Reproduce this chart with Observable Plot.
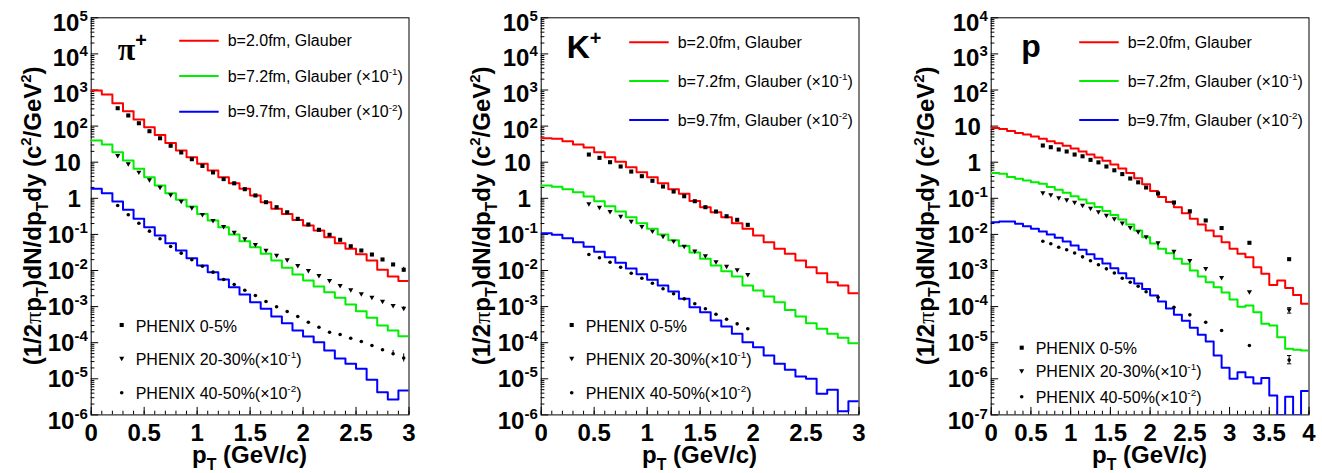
<!DOCTYPE html>
<html><head><meta charset="utf-8">
<script src="https://cdn.jsdelivr.net/npm/d3@7"></script>
<script src="https://cdn.jsdelivr.net/npm/@observablehq/plot@0.6"></script>
<style>
html,body{margin:0;padding:0;background:#fff;}
#wrap{position:relative;width:1322px;height:473px;overflow:hidden;background:#fff;}
#wrap svg{position:absolute;top:0;overflow:visible;}
</style></head><body><div id="wrap"></div>
<script>
// ================= DATA =================
const binWidth = 0.1;

// ---- pi+ : hydro histograms (30 bins of 0.1 GeV/c) ----
const piModelB20 = [968, 750, 430, 259, 152, 93, 57, 34, 21, 13.8, 9.0, 5.9, 3.8, 2.6, 1.83, 1.2, 0.78, 0.51, 0.37, 0.25, 0.176, 0.128, 0.084, 0.057, 0.040, 0.028, 0.019, 0.0105, 0.0068, 0.0051];
const piModelB72 = [40, 31, 18.9, 11.1, 6.6, 3.84, 2.26, 1.38, 0.91, 0.59, 0.37, 0.243, 0.158, 0.099, 0.065, 0.0442, 0.029, 0.0189, 0.0119, 0.0078, 0.00528, 0.0036, 0.0025, 0.00175, 0.00114, 0.000746, 0.00049, 0.0003, 0.000218, 0.000151];
const piModelB97 = [1.83, 1.38, 0.815, 0.48, 0.27, 0.158, 0.093, 0.057, 0.0358, 0.0219, 0.0138, 0.009, 0.00563, 0.00345, 0.00216, 0.00132, 0.00087, 0.00053, 0.000347, 0.000218, 0.000149, 0.000103, 6.1e-5, 3.65e-5, 2.6e-5, 1.9e-5, 9.4e-6, 4.25e-6, 2.67e-6, 4.74e-6];
// ---- pi+ : PHENIX points ----
const piPT = [0.25, 0.35, 0.45, 0.55, 0.65, 0.75, 0.85, 0.95, 1.05, 1.15, 1.25, 1.35, 1.45, 1.55, 1.65, 1.75, 1.85, 1.95, 2.05, 2.15, 2.25, 2.35, 2.45, 2.55, 2.65, 2.75, 2.85, 2.95];
const piPhx05 = [313, 197, 120, 72, 46, 28.5, 18.6, 12.1, 7.9, 5.2, 3.4, 2.6, 1.79, 1.20, 0.78, 0.567, 0.41, 0.27, 0.188, 0.134, 0.0975, 0.0708, 0.047, 0.0358, 0.0277, 0.0202, 0.0147, 0.0105];
const piPhx2030 = [15.4, 9.0, 5.3, 3.25, 2.03, 1.25, 0.83, 0.546, 0.356, 0.243, 0.166, 0.115, 0.0755, 0.0525, 0.0365, 0.0265, 0.0198, 0.0138, 0.0100, 0.00727, 0.00528, 0.00384, 0.00292, 0.00226, 0.00182, 0.00141, 0.00107, 0.0009];
const piPhx4050 = [0.63, 0.349, 0.204, 0.123, 0.0755, 0.0462, 0.0302, 0.0198, 0.0131, 0.009, 0.00563, 0.0041, 0.00285, 0.00203, 0.00138, 0.00099, 0.00073, 0.00053, 0.00037, 0.000269, 0.000195, 0.000169, 0.000133, 0.000108, 8.4e-5, 6.35e-5, 4.93e-5, 3.77e-5];
const piErrSeries = [0, 1, 2, 2];
const piErrPT = [2.95, 2.95, 2.85, 2.95];
const piErrLo = [0.0090, 0.00082, 4.4e-5, 2.9e-5];
const piErrHi = [0.0123, 0.00099, 6.1e-5, 4.9e-5];

// ---- K+ ----
const kModelB20 = [46, 44.5, 38, 31, 25.5, 18.9, 13.8, 10.3, 7.3, 5.3, 3.84, 2.62, 1.79, 1.33, 0.84, 0.566, 0.41, 0.30, 0.204, 0.143, 0.093, 0.061, 0.040, 0.029, 0.0189, 0.0123, 0.0084, 0.0047, 0.00384, 0.00235];
const kModelB72 = [2.26, 2.08, 1.79, 1.48, 1.12, 0.83, 0.60, 0.43, 0.30, 0.204, 0.143, 0.099, 0.069, 0.048, 0.0315, 0.0211, 0.0138, 0.0096, 0.0068, 0.00384, 0.00279, 0.0019, 0.00132, 0.00081, 0.00053, 0.000347, 0.000243, 0.000177, 0.000137, 9.7e-5];
const kModelB97 = [0.108, 0.0975, 0.0785, 0.0608, 0.0454, 0.033, 0.0234, 0.0163, 0.01135, 0.0079, 0.0055, 0.00384, 0.00262, 0.00164, 0.00096, 0.0007, 0.000412, 0.000281, 0.000177, 0.000103, 7.5e-5, 4.42e-5, 2.6e-5, 1.77e-5, 1.16e-5, 1.0e-5, 3.84e-6, 4.95e-6, 1.27e-6, 2.4e-6];
const kPT = [0.45, 0.55, 0.65, 0.75, 0.85, 0.95, 1.05, 1.15, 1.25, 1.35, 1.45, 1.55, 1.65, 1.75, 1.85, 1.95];
const kPhx05 = [16.3, 13.2, 10.0, 7.6, 5.5, 4.1, 3.05, 2.12, 1.54, 1.14, 0.83, 0.567, 0.43, 0.319, 0.254, 0.184];
const kPhx2030 = [0.705, 0.567, 0.43, 0.319, 0.232, 0.166, 0.123, 0.089, 0.065, 0.047, 0.0347, 0.0255, 0.0174, 0.0131, 0.0105, 0.0077];
const kPhx4050 = [0.0277, 0.0225, 0.017, 0.0123, 0.0084, 0.00612, 0.00445, 0.00311, 0.00226, 0.00164, 0.0012, 0.00087, 0.000615, 0.000447, 0.000333, 0.000243];

// ---- p (40 bins of 0.1 GeV/c; 0 = empty bin) ----
const pModelB20 = [8.85, 8.3, 7.3, 6.44, 5.85, 5.15, 4.45, 3.82, 3.36, 2.85, 2.40, 1.98, 1.63, 1.35, 1.09, 0.863, 0.669, 0.50, 0.36, 0.245, 0.16, 0.109, 0.079, 0.0567, 0.0386, 0.027, 0.0188, 0.0128, 0.0089, 0.0061, 0.004, 0.0029, 0.00233, 0.00123, 0.00081, 0.000397, 0.000528, 0.000327, 0.00021, 0.00012];
const pModelB72 = [0.502, 0.477, 0.389, 0.347, 0.311, 0.279, 0.252, 0.206, 0.172, 0.142, 0.114, 0.0927, 0.0732, 0.0574, 0.0445, 0.0345, 0.0259, 0.0188, 0.0128, 0.00836, 0.0056, 0.004, 0.00301, 0.00211, 0.00153, 0.001, 0.00068, 0.000474, 0.000344, 0.000246, 0.000157, 9.9e-5, 0.000107, 7.0e-5, 3.34e-5, 3.0e-5, 1.42e-5, 6.8e-6, 6.35e-6, 6.1e-6];
const pModelB97 = [0.0218, 0.0228, 0.0228, 0.0197, 0.0169, 0.0143, 0.0120, 0.00993, 0.00805, 0.00635, 0.00493, 0.00374, 0.00283, 0.00211, 0.00156, 0.00116, 0.00084, 0.000612, 0.000437, 0.000308, 0.000203, 0.000138, 8.85e-5, 5.9e-5, 4.05e-5, 2.59e-5, 1.66e-5, 1.08e-5, 4.4e-6, 2.02e-6, 1.0e-6, 1.52e-6, 1.11e-6, 7.4e-7, 1.05e-6, 3.44e-7, 0, 3.17e-7, 0, 4.6e-7];
const pPT = [0.65, 0.75, 0.85, 0.95, 1.05, 1.15, 1.25, 1.35, 1.45, 1.55, 1.65, 1.75, 1.85, 1.95, 2.1, 2.3, 2.5, 2.7, 2.9, 3.25, 3.75];
const pPhx05 = [2.9, 2.6, 2.25, 1.98, 1.63, 1.46, 1.16, 0.99, 0.76, 0.597, 0.468, 0.353, 0.277, 0.199, 0.136, 0.0766, 0.0437, 0.0243, 0.015, 0.00585, 0.00206];
const pPhx2030 = [0.142, 0.126, 0.104, 0.0914, 0.078, 0.0644, 0.0528, 0.0423, 0.034, 0.027, 0.0207, 0.0155, 0.0118, 0.0086, 0.00585, 0.0034, 0.0019, 0.00114, 0.00064, 0.000257, 8.1e-5];
const pPhx4050 = [0.00644, 0.0055, 0.00442, 0.00374, 0.00305, 0.00239, 0.00186, 0.00144, 0.00111, 0.00085, 0.000612, 0.000474, 0.000367, 0.000257, 0.000182, 9.6e-5, 5.9e-5, 3.7e-5, 2.18e-5, 8.4e-6, 3.3e-6];
const pErrSeries = [1, 2];
const pErrPT = [3.75, 3.75];
const pErrLo = [6.6e-5, 2.6e-6];
const pErrHi = [9.3e-5, 4.4e-6];

// ---- labels ----
const modelLabels = [
  [{t: "b=2.0fm, Glauber"}],
  [{t: "b=7.2fm, Glauber (×10"}, {t: "-1", sup: true}, {t: ")"}],
  [{t: "b=9.7fm, Glauber (×10"}, {t: "-2", sup: true}, {t: ")"}]
];
const dataLabels = [
  [{t: "PHENIX 0-5%"}],
  [{t: "PHENIX 20-30%(×10"}, {t: "-1", sup: true}, {t: ")"}],
  [{t: "PHENIX 40-50%(×10"}, {t: "-2", sup: true}, {t: ")"}]
];
const modelColors = ["#ff0000", "#00ee00", "#0000ff"];
const xTitle = [{t: "p"}, {t: "T", sub: true}, {t: " (GeV/c)"}];
const yTitle = [{t: "(1/2"}, {t: "π", serif: true}, {t: "p"}, {t: "T", sub: true}, {t: ")dN/dp"}, {t: "T", sub: true}, {t: "dy (c"}, {t: "2", sup: true}, {t: "/GeV"}, {t: "2", sup: true}, {t: ")"}];

// ================= DRAWING =================
const SANS = "'Liberation Sans', Arial, Helvetica, sans-serif";
const SERIF = "'Liberation Serif', 'Times New Roman', serif";
const ML = 90.7, MT = 17.3, MB = 58.6, PW = 317.8;

function rich(textSel, parts, size) {
  let shift = 0;
  for (const p of parts) {
    let target = 0, fs = size;
    if (p.sup) { target = -size * 0.42; fs = size * 0.62; }
    else if (p.sub) { target = size * 0.28; fs = size * 0.66; }
    const t = textSel.append("tspan").text(p.t).attr("font-size", fs);
    if (target - shift !== 0) t.attr("dy", target - shift);
    if (p.serif) t.attr("font-family", SERIF).attr("font-weight", p.bold ? "bold" : "normal");
    shift = target;
  }
}

function stepData(vals, floor) {
  const out = vals.map((v, i) => ({x: i * binWidth, y: v > 0 ? v : floor}));
  out.push({x: vals.length * binWidth, y: out[out.length - 1].y});
  return out;
}

const capSymbol = {draw(ctx, size) { const w = Math.sqrt(size); ctx.moveTo(-w, 0); ctx.lineTo(w, 0); }};

function panel(cfg) {
  const [e0, e1] = cfg.yExp;
  const ymin = 10 ** e0, ymax = 10 ** e1;
  const decades = d3.range(e0, e1 + 1).map(e => 10 ** e);
  const minorY = [];
  for (let e = e0; e < e1; e++) for (let m = 2; m <= 9; m++) minorY.push(m * 10 ** e);
  const xMajor = d3.range(0, cfg.xMax + 0.001, 0.5).map(v => +v.toFixed(1));
  const xMinor = d3.range(0, Math.round(cfg.xMax * 10) + 1).map(i => +(i / 10).toFixed(1));
  const symbols = ["square", "triangle", "circle"];
  const radii = [2.3, 1.9, 1.8];
  const rots = [0, 180, 0];

  const marks = [
    Plot.frame({stroke: "#000", strokeWidth: 1}),
    Plot.axisX({ticks: xMinor, tickSize: -3.7, fill: "none", label: null}),
    Plot.axisX({ticks: xMajor, tickSize: -7.5, fill: "none", label: null}),
    Plot.axisX({ticks: xMajor, tickSize: 0, tickPadding: 9, tickFormat: d => String(d), label: null}),
    Plot.axisY({ticks: minorY, tickSize: -3.7, fill: "none", label: null}),
    Plot.axisY({ticks: decades, tickSize: -7.5, fill: "none", label: null}),
    Plot.axisY({ticks: decades, tickSize: 0, tickPadding: 3.4, label: null,
      tickFormat: d => { const k = Math.round(Math.log10(d)); return k === 0 ? "1" : k === 1 ? "10" : "10^" + k; }})
  ];
  cfg.models.forEach((vals, s) => {
    marks.push(Plot.line(stepData(vals, ymin), {x: "x", y: "y", curve: "step-after", stroke: modelColors[s], strokeWidth: 2, clip: true}));
  });
  const errData = cfg.errs.series.map((s, i) => ({x: cfg.errs.pt[i], lo: cfg.errs.lo[i], hi: cfg.errs.hi[i]}));
  marks.push(Plot.ruleX(errData, {x: "x", y1: "lo", y2: "hi", stroke: "#000", strokeWidth: 1}));
  if (cfg.errs.caps) {
    marks.push(Plot.dot(errData, {x: "x", y: "lo", symbol: capSymbol, r: 1.2, stroke: "#000", fill: "none", strokeWidth: 1}));
    marks.push(Plot.dot(errData, {x: "x", y: "hi", symbol: capSymbol, r: 1.2, stroke: "#000", fill: "none", strokeWidth: 1}));
  }
  cfg.data.forEach((vals, s) => {
    marks.push(Plot.dot(vals.map((v, i) => ({x: cfg.pt[i], y: v})), {x: "x", y: "y", symbol: symbols[s], r: radii[s], rotate: rots[s], fill: "#000", stroke: "none"}));
  });

  const svg = Plot.plot({
    width: cfg.width, height: 473,
    marginLeft: ML, marginRight: cfg.width - ML - PW, marginTop: MT, marginBottom: MB,
    x: {domain: [0, cfg.xMax]},
    y: {type: "log", domain: [ymin, ymax]},
    style: {fontFamily: SANS, fontSize: "24px", fontWeight: "bold", color: "#000", background: "transparent", overflow: "visible"},
    marks
  });
  svg.style.left = cfg.left + "px";
  const S = d3.select(svg);

  // y tick labels with superscript exponents
  S.selectAll('g[aria-label="y-axis tick label"] text').each(function () {
    const s = this.textContent;
    const [base, exp] = s.split("^");
    const t = d3.select(this);
    t.text(null);
    if (exp === undefined) { t.attr("dx", -7); t.append("tspan").attr("dy", 1).text(base); }
    else {
      const k = +exp;
      const drop = (k === e1 || k === e0) ? 6 : k > 0 ? 4.3 : 1;
      t.append("tspan").attr("dy", drop).text(base);
      t.append("tspan").attr("font-size", 15).attr("dy", -10).text(exp);
    }
  });

  const fx = v => ML + v, fy = v => MT + v;
  const g = S.append("g").attr("font-family", SANS).attr("text-anchor", "start");

  // particle label
  const lab = g.append("text").attr("x", fx(cfg.labelDX)).attr("y", fy(cfg.labelDY)).attr("font-weight", "bold").attr("fill", "#000");
  rich(lab, cfg.label, 32);

  // model legend
  cfg.topRows.forEach((ry, i) => {
    g.append("line").attr("x1", fx(88.5)).attr("x2", fx(128)).attr("y1", fy(ry)).attr("y2", fy(ry)).attr("stroke", modelColors[i]).attr("stroke-width", 2);
    const t = g.append("text").attr("x", fx(137)).attr("y", fy(ry) + 5.7).attr("font-weight", "normal").attr("fill", "#000");
    rich(t, modelLabels[i], 16);
  });
  // data legend
  const legSym = [d3.symbolSquare, d3.symbolTriangle, d3.symbolCircle];
  cfg.bottomRows.forEach((ry, i) => {
    g.append("path").attr("d", d3.symbol(legSym[i], Math.PI * radii[i] * radii[i])())
      .attr("transform", `translate(${fx(31)},${fy(ry)}) rotate(${rots[i]})`).attr("fill", "#000");
    const t = g.append("text").attr("x", fx(45)).attr("y", fy(ry) + 6.5).attr("font-weight", "normal").attr("fill", "#000");
    rich(t, dataLabels[i], 16);
  });

  // axis titles
  const xt = g.append("text").attr("x", fx(PW / 2)).attr("y", fy(0) + (473 - MT - MB) + 49)
    .attr("text-anchor", "middle").attr("font-weight", "bold").attr("fill", "#000");
  rich(xt, xTitle, 24);
  const yt = g.append("text").attr("transform", `translate(${fx(cfg.yTitleDX)},${MT + (473 - MT - MB) / 2}) rotate(-90)`)
    .attr("text-anchor", "middle").attr("font-weight", "bold").attr("fill", "#000");
  rich(yt, yTitle, 24);

  document.getElementById("wrap").appendChild(svg);
}

panel({left: 0, width: 450, xMax: 3, yExp: [-6, 5],
  models: [piModelB20, piModelB72, piModelB97],
  pt: piPT, data: [piPhx05, piPhx2030, piPhx4050],
  errs: {series: piErrSeries, pt: piErrPT, lo: piErrLo, hi: piErrHi, caps: false},
  label: [{t: "π", serif: true, bold: true}, {t: "+", sup: true}], labelDX: 27, labelDY: 42.7,
  topRows: [23.4, 58.7, 94.4], bottomRows: [307.7, 341, 375.4], yTitleDX: -49.5});

panel({left: 450, width: 450, xMax: 3, yExp: [-6, 5],
  models: [kModelB20, kModelB72, kModelB97],
  pt: kPT, data: [kPhx05, kPhx2030, kPhx4050],
  errs: {series: [], pt: [], lo: [], hi: [], caps: false},
  label: [{t: "K"}, {t: "+", sup: true}], labelDX: 26, labelDY: 41,
  topRows: [25, 63.7, 102.7], bottomRows: [307.7, 341, 375.4], yTitleDX: -50.5});

panel({left: 900, width: 422, xMax: 4, yExp: [-7, 4],
  models: [pModelB20, pModelB72, pModelB97],
  pt: pPT, data: [pPhx05, pPhx2030, pPhx4050],
  errs: {series: pErrSeries, pt: pErrPT, lo: pErrLo, hi: pErrHi, caps: true},
  label: [{t: "p"}], labelDX: 30.5, labelDY: 39.7,
  topRows: [25, 63.7, 102.7], bottomRows: [330.4, 353.4, 379.4], yTitleDX: -57});
</script></body></html>
